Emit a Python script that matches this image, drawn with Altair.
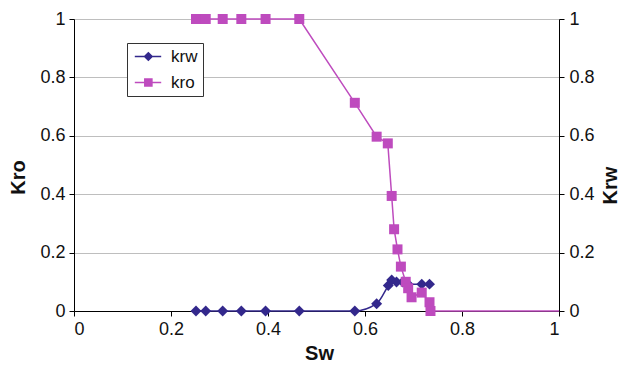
import altair as alt
import pandas as pd

# ---- data ----
krw_sw = [0.2515, 0.2716, 0.3066, 0.345, 0.395, 0.4645, 0.579, 0.624, 0.648, 0.655, 0.665, 0.678, 0.689, 0.717, 0.733]
krw_val = [0, 0, 0, 0, 0, 0, 0, 0.025, 0.087, 0.106, 0.099, 0.099, 0.092, 0.092, 0.092]

kro_sw = [0.2515, 0.2716, 0.3066, 0.345, 0.395, 0.4645, 0.579, 0.624, 0.647, 0.655, 0.660, 0.667, 0.674, 0.684, 0.689, 0.696, 0.717, 0.733, 0.735]
kro_val = [1, 1, 1, 1, 1, 1, 0.713, 0.597, 0.574, 0.394, 0.28, 0.211, 0.152, 0.10, 0.078, 0.047, 0.063, 0.03, 0.0]

kro_tail_sw = [0.735, 1.0]
kro_tail_val = [0.0, 0.0]

series = ["krw", "kro"]
colors = ["#33288C", "#BE4BBE"]
ticks = [0, 0.2, 0.4, 0.6, 0.8, 1]

FONT = "Liberation Sans"

krw_df = pd.DataFrame({"sw": krw_sw, "krw": krw_val})
kro_df = pd.DataFrame({"sw": kro_sw, "kro": kro_val})
tail_df = pd.DataFrame({"sw": kro_tail_sw, "kro": kro_tail_val})
leg_df = pd.DataFrame({"series": series})

x_enc = alt.X(
    "sw:Q",
    scale=alt.Scale(domain=[0, 1], nice=False),
    axis=alt.Axis(
        values=ticks, format=".1~f", title="Sw", grid=False,
        domainColor="#000", tickColor="#000", tickSize=5, labelPadding=4,
        labelFont=FONT, labelFontSize=18, labelColor="#111",
        titleFont=FONT, titleFontSize=20, titleFontWeight="bold", titleColor="#111",
        titleX=245, titleY=42, titleBaseline="middle",
    ),
)

left_axis = alt.Axis(
    orient="left", values=ticks, format=".1~f", title="Kro",
    grid=True, gridColor="#BEBEBE", gridWidth=1,
    domainColor="#000", tickColor="#000", tickSize=5, labelPadding=4,
    labelFont=FONT, labelFontSize=18, labelColor="#111",
    titleFont=FONT, titleFontSize=20, titleFontWeight="bold", titleColor="#111",
    titleAngle=-90, titleX=-56, titleY=158, titleBaseline="middle", titleAlign="center",
)
right_axis = alt.Axis(
    orient="right", values=ticks, format=".1~f", title="Krw",
    grid=False,
    domainColor="#000", tickColor="#000", tickSize=5, labelPadding=5,
    labelFont=FONT, labelFontSize=18, labelColor="#111",
    titleFont=FONT, titleFontSize=20, titleFontWeight="bold", titleColor="#111",
    titleAngle=-90, titleX=51, titleY=166, titleBaseline="middle", titleAlign="center",
)

y_left = alt.Y("kro:Q", scale=alt.Scale(domain=[0, 1], nice=False), axis=left_axis)
y_right = alt.Y("krw:Q", scale=alt.Scale(domain=[0, 1], nice=False), axis=right_axis)

krw_line = alt.Chart(krw_df).mark_line(color=colors[0], strokeWidth=1.5, interpolate="monotone").encode(x=x_enc, y=y_right)
krw_pts = alt.Chart(krw_df).mark_point(shape="diamond", filled=True, size=120, opacity=1, color=colors[0]).encode(x=x_enc, y=y_right)

kro_line = alt.Chart(kro_df).mark_line(color=colors[1], strokeWidth=1.5).encode(x=x_enc, y=y_left)
kro_tail = alt.Chart(tail_df).mark_line(color=colors[1], strokeWidth=1.5).encode(x=x_enc, y=y_left)
kro_pts = alt.Chart(kro_df).mark_point(shape="square", filled=True, size=100, opacity=1, color=colors[1]).encode(x=x_enc, y=y_left)

diamond_path = "M-1.14,0L4.14,0M1.57,-0.76L2.33,0L1.57,0.76L0.81,0Z"
square_path = "M-1.14,0L4.14,0M0.86,-0.71L2.28,-0.71L2.28,0.71L0.86,0.71Z"

leg = alt.Legend(
    title=None, orient="none", legendX=53, legendY=24,
    strokeColor="#333", padding=5, fillColor="white",
    labelFont=FONT, labelFontSize=17, labelColor="#111", labelOffset=22,
    symbolStrokeWidth=1.5, symbolOpacity=1, rowPadding=8,
)
legend_layer = alt.Chart(leg_df).mark_point(filled=True, opacity=1, size=196, clip=True).encode(
    x=alt.value(-200), y=alt.value(-200),
    color=alt.Color("series:N", scale=alt.Scale(domain=series, range=colors), legend=leg),
    stroke=alt.Stroke("series:N", scale=alt.Scale(domain=series, range=colors), legend=leg),
    shape=alt.Shape("series:N", scale=alt.Scale(domain=series, range=[diamond_path, square_path]), legend=leg),
)

right_group = alt.layer(krw_line, krw_pts)
left_group = alt.layer(kro_line, kro_tail, kro_pts, legend_layer)

chart = alt.layer(right_group, left_group).resolve_scale(y="independent").properties(
    width=485, height=292,
    autosize=alt.AutoSizeParams(type="none"),
    padding={"left": 74, "top": 19, "right": 65, "bottom": 57},
).configure_view(stroke=None).configure(background="white")

chart.save("out.html", embed_options={"renderer": "svg", "actions": False})
